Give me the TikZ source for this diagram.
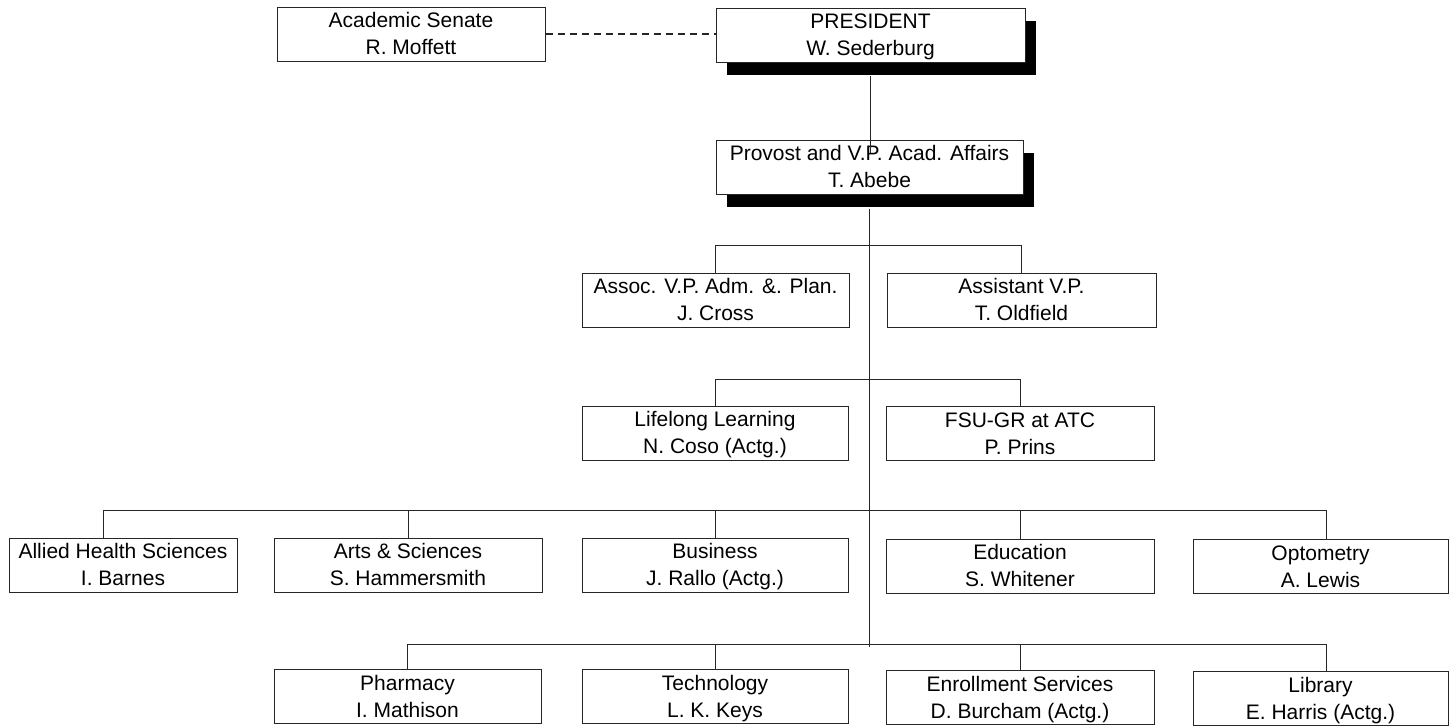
\documentclass[tikz,border=0pt]{standalone}
\usepackage{fontspec}
\setmainfont{Liberation Sans}
\usetikzlibrary{shadows}
\newcommand\orgtext[2]{\rule{0pt}{20.5pt}#1\\\rule[-6.5pt]{0pt}{6.5pt}#2}
\begin{document}
\begin{tikzpicture}[x={(1pt,0)},y={(0,-1pt)},
  box/.style={draw=black!85, line width=1pt, fill=white, inner sep=0pt, align=center,
    font=\fontsize{21}{27}\selectfont},
  shbox/.style={box, drop shadow={shadow xshift=11pt, shadow yshift=-13pt, fill=black, opacity=1}},
  link/.style={draw=black!85, line width=0.9pt},
  dashlink/.style={draw=black!85, line width=2.2pt, dash pattern=on 7pt off 5pt}]
\useasboundingbox (0,0) rectangle (1449,726);

% top
\node[box, minimum width=268pt, minimum height=54pt] (sen) at (411,34) {\orgtext{Academic Senate}{R. Moffett}};
\node[shbox, minimum width=309pt, minimum height=54pt] (pres) at (870.5,35) {\orgtext{PRESIDENT}{W. Sederburg}};
\node[shbox, minimum width=307pt, minimum height=52pt] (prov) at (869.5,167) {\orgtext{Provost and V.P. Acad. Affairs}{T. Abebe}};

% vice presidents
\node[box, minimum width=267pt, minimum height=54pt] (assoc) at (715.5,300) {\orgtext{Assoc. V.P. Adm. \&. Plan.}{J. Cross}};
\node[box, minimum width=269pt, minimum height=54pt] (asst) at (1021.5,300) {\orgtext{Assistant V.P.}{T. Oldfield}};

% second level
\node[box, minimum width=266pt, minimum height=54pt] (life) at (715,433) {\orgtext{Lifelong Learning}{N. Coso (Actg.)}};
\node[box, minimum width=268pt, minimum height=53pt] (fsu) at (1020,433.5) {\orgtext{FSU-GR at ATC}{P. Prins}};

% colleges
\node[box, minimum width=228pt, minimum height=54pt] (allied) at (123,565) {\orgtext{Allied Health Sciences}{I. Barnes}};
\node[box, minimum width=268pt, minimum height=54pt] (arts) at (408,565) {\orgtext{Arts \& Sciences}{S. Hammersmith}};
\node[box, minimum width=266pt, minimum height=54pt] (bus) at (715,565) {\orgtext{Business}{J. Rallo (Actg.)}};
\node[box, minimum width=268pt, minimum height=54pt] (edu) at (1020,566) {\orgtext{Education}{S. Whitener}};
\node[box, minimum width=255pt, minimum height=53pt] (opt) at (1320.5,566.5) {\orgtext{Optometry}{A. Lewis}};

% bottom row
\node[box, minimum width=267pt, minimum height=53pt] (pharm) at (407.5,696.5) {\orgtext{Pharmacy}{I. Mathison}};
\node[box, minimum width=266pt, minimum height=53pt] (tech) at (715,696.5) {\orgtext{Technology}{L. K. Keys}};
\node[box, minimum width=268pt, minimum height=53pt] (enr) at (1020,697.5) {\orgtext{Enrollment Services}{D. Burcham (Actg.)}};
\node[box, minimum width=255pt, minimum height=53pt] (lib) at (1320.5,698.5) {\orgtext{Library}{E. Harris (Actg.)}};

% connectors
\draw[dashlink] (sen.east) -- (sen.east -| pres.west);
\draw[link] ([yshift=-13pt]pres.south) -- ([yshift=-13pt]pres.south |- prov.north);
\path (prov.south) ++(0,452) coordinate (trunkend);
\draw[link] ([yshift=-14pt]prov.south) -- (trunkend);

\draw[link] (assoc.north) -- ++(0,-27) -| (asst.north);
\draw[link] (life.north) -- ++(0,-26) -| (fsu.north);

\draw[link] ([xshift=-20pt]allied.north) -- ++(0,-27) -| ([xshift=5.5pt]opt.north);
\draw[link] (arts.north) -- ++(0,-27);
\draw[link] (bus.north) -- ++(0,-27);
\draw[link] (edu.north) -- ++(0,-28);

\draw[link] (pharm.north) -- ++(0,-25) -| ([xshift=5.5pt]lib.north);
\draw[link] (tech.north) -- ++(0,-25);
\draw[link] (enr.north) -- ++(0,-26);
\end{tikzpicture}
\end{document}
